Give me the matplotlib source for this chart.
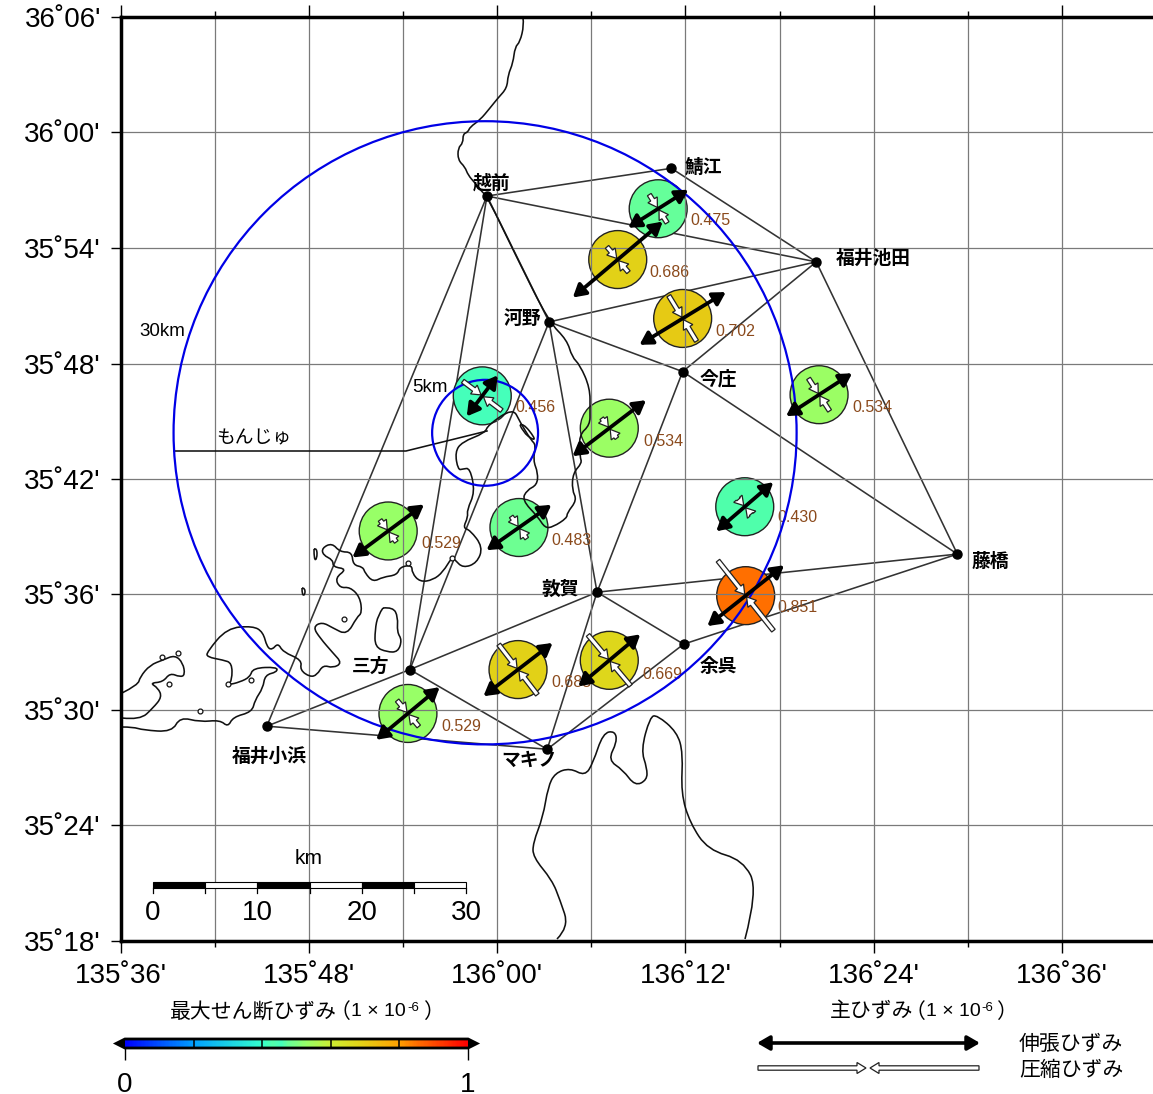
"""Principal strain map around Monju: baseline network, strain symbols and coastline."""

import numpy as np
import matplotlib
matplotlib.use("Agg")
import matplotlib.pyplot as plt
from matplotlib.cm import ScalarMappable
from matplotlib.colors import LinearSegmentedColormap, Normalize
from matplotlib.patches import Ellipse, FancyArrowPatch, PathPatch, Polygon, Rectangle
from matplotlib.path import Path

plt.rcParams['font.family'] = ['Liberation Sans', 'Noto Sans CJK JP', 'DejaVu Sans']

# GNSS stations
station_names = ['越前', '鯖江', '福井池田', '河野', '今庄', '藤橋', '敦賀', '余呉', '三方', '福井小浜', 'マキノ']
station_lon = [135.989, 136.185, 136.339, 136.055, 136.197, 136.489, 136.106, 136.198, 135.907, 135.755, 136.053]
station_lat = [35.945, 35.969, 35.888, 35.836, 35.793, 35.635, 35.602, 35.557, 35.535, 35.486, 35.466]

# baselines between stations
baselines = [('越前', '鯖江'), ('越前', '福井池田'), ('鯖江', '福井池田'), ('越前', '河野'),
             ('河野', '福井池田'), ('河野', '今庄'), ('福井池田', '今庄'), ('福井池田', '藤橋'),
             ('今庄', '藤橋'), ('今庄', '敦賀'), ('河野', '敦賀'), ('河野', '三方'),
             ('越前', '三方'), ('越前', '福井小浜'), ('三方', '福井小浜'), ('三方', '敦賀'),
             ('三方', 'マキノ'), ('福井小浜', 'マキノ'), ('敦賀', 'マキノ'), ('敦賀', '余呉'),
             ('余呉', 'マキノ'), ('敦賀', '藤橋'), ('余呉', '藤橋')]

# strain at each triangle: position, max shear, extension, compression, direction of extension
strain_lon = [136.171, 136.128, 136.197, 136.342, 135.984, 136.119, 136.263,
              135.884, 136.023, 136.264, 136.022, 136.119, 135.905]
strain_lat = [35.934, 35.890, 35.839, 35.773, 35.772, 35.744, 35.676,
              35.655, 35.658, 35.599, 35.535, 35.543, 35.497]
max_shear = [0.475, 0.686, 0.702, 0.534, 0.456, 0.534, 0.430, 0.529, 0.483, 0.851, 0.685, 0.669, 0.529]
extension = [0.323, 0.535, 0.460, 0.358, 0.234, 0.420, 0.342, 0.405, 0.360, 0.445, 0.397, 0.368, 0.375]
compression = [0.152, 0.151, 0.242, 0.176, 0.222, 0.114, 0.088, 0.124, 0.123, 0.406, 0.288, 0.301, 0.154]
extension_deg = [32.3, 40.2, 31.4, 33.0, 52.9, 37.3, 40.7, 36.5, 35.0, 38.4, 37.6, 40.0, 39.7]

coast_main_x = [523, 524, 520, 515, 513, 508, 507, 498, 490, 480, 470, 468, 463, 463, 458, 458, 465, 468, 475, 483,
                487, 518, 549, 567, 572, 580, 590, 590, 590, 579, 580, 582, 573, 572, 577, 567, 567, 553, 545, 538,
                522, 527, 537, 538, 533, 536, 531, 520, 513, 488, 485, 462, 455, 458, 463, 470, 475, 467, 468, 463,
                470, 483, 477, 463, 455, 452, 443, 433, 420, 412, 412, 400, 397, 383, 373, 365, 363, 353, 352, 340,
                332, 322, 323, 333, 333, 347, 335, 340, 350, 360, 362, 357, 347, 333, 322, 313, 320, 333, 342, 333,
                323, 317, 310, 300, 302, 283, 278, 272, 267, 263, 253, 227, 207, 207, 223, 232, 232, 228, 240, 250,
                253, 277, 277, 265, 263, 255, 252, 233, 228, 220, 200, 180, 172, 143, 133, 122]
coast_main_y = [18, 25, 42, 47, 63, 75, 88, 98, 108, 120, 127, 132, 134, 143, 148, 160, 167, 175, 183, 193,
                196, 260, 322, 340, 357, 365, 388, 410, 425, 435, 457, 463, 473, 490, 500, 513, 518, 527, 528, 517,
                500, 490, 485, 473, 460, 445, 440, 422, 408, 425, 433, 442, 452, 470, 469, 468, 492, 510, 517, 528,
                530, 547, 563, 568, 560, 557, 572, 580, 582, 573, 565, 567, 575, 577, 582, 573, 567, 565, 552, 552,
                543, 548, 555, 560, 567, 569, 578, 588, 587, 597, 613, 617, 635, 628, 622, 627, 638, 653, 663, 668,
                665, 675, 677, 670, 660, 652, 643, 650, 647, 632, 626, 628, 652, 657, 660, 663, 680, 685, 682, 677,
                668, 667, 672, 675, 688, 700, 712, 717, 727, 720, 722, 717, 732, 730, 727, 727]
coast_west_x = [122, 140, 153, 162, 158, 150, 163, 170, 180, 185, 183, 175, 163, 150, 140, 138, 122]
coast_west_y = [718, 720, 708, 697, 688, 683, 682, 673, 677, 675, 663, 655, 660, 665, 677, 685, 693]
lake_mikata_x = [383, 393, 398, 397, 402, 398, 387, 375, 375, 378, 383]
lake_mikata_y = [608, 607, 617, 632, 640, 652, 652, 647, 630, 615, 608]
lagoon_x = [520, 523, 535, 533, 523, 520]
lagoon_y = [425, 423, 438, 440, 432, 425]
island_a_x = [314, 317, 317, 314, 314]
island_a_y = [549, 548, 559, 560, 549]
island_b_x = [302, 305, 305, 302, 302]
island_b_y = [588, 588, 595, 595, 588]
biwa_x = [557, 569, 560, 552, 533, 533, 543, 548, 555, 570, 585, 593, 603, 615, 617, 608, 623, 635, 647, 647,
          641, 650, 657, 677, 683, 681, 690, 708, 743, 758, 745]
biwa_y = [939, 927, 900, 880, 857, 843, 817, 787, 773, 768, 776, 763, 733, 731, 742, 760, 770, 786, 780, 768,
          750, 717, 715, 732, 753, 793, 823, 850, 860, 890, 939]
islet_x = [344, 169, 200, 228, 251, 408, 452, 162, 178]
islet_y = [619, 684, 711, 684, 680, 563, 558, 657, 653]

monju_lon, monju_lat = 135.987, 35.740
circle_radii_km = [30, 5.1]
km_per_lon, km_per_lat = 90.6, 111.2

lon_ticks = [135.6, 135.8, 136.0, 136.2, 136.4, 136.6]
lon_tick_labels = ["135˚36'", "135˚48'", "136˚00'", "136˚12'", "136˚24'", "136˚36'"]
lon_minor_ticks = [135.7, 135.9, 136.1, 136.3, 136.5]
lat_ticks = [35.3, 35.4, 35.5, 35.6, 35.7, 35.8, 35.9, 36.0, 36.1]
lat_tick_labels = ["35˚18'", "35˚24'", "35˚30'", "35˚36'", "35˚42'", "35˚48'", "35˚54'", "36˚00'", "36˚06'"]

# map frame on the sheet
W, H = 1153, 1094
X0, Y0 = 121, 941          # pixel of 135.6E / 35.3N
PX_PER_LON, PX_PER_LAT = 940.8, 1155.0
STRAIN_PX = 110            # symbol half length for 1e-6


def sheet_lon(px):
    return 135.6 + (np.asarray(px, dtype=float) - X0) / PX_PER_LON


def sheet_lat(py):
    return 35.3 + (Y0 - np.asarray(py, dtype=float)) / PX_PER_LAT


def smooth_trace(lons, lats):
    """Quadratic curve path using the traced points as control points."""
    pts = np.column_stack([lons, lats])
    verts = [pts[0]]
    codes = [Path.MOVETO]
    for i in range(1, len(pts) - 1):
        end = pts[-1] if i == len(pts) - 2 else (pts[i] + pts[i + 1]) / 2
        verts += [pts[i], end]
        codes += [Path.CURVE3, Path.CURVE3]
    return Path(verts, codes)


cmap = LinearSegmentedColormap.from_list('shear', [
    (0.00, '#0000ff'), (0.20, '#00a0ff'), (0.40, '#33ffcc'), (0.43, '#50ffaa'), (0.456, '#44ffbb'),
    (0.475, '#66ff99'), (0.53, '#99ff66'), (0.60, '#ccee33'), (0.68, '#e0d418'), (0.80, '#ffa000'),
    (0.851, '#ff6f00'), (1.00, '#ff0000')])
cmap.set_under('black')
cmap.set_over('black')
norm = Normalize(0, 1)

fig = plt.figure(figsize=(W / 100, H / 100), dpi=100, facecolor='white')
ax = fig.add_axes([X0 / W, (H - Y0) / H, (W - X0) / W, (Y0 - 17) / H])
ax.set_xlim(135.6, 135.6 + (W - X0) / PX_PER_LON)
ax.set_ylim(35.3, 35.3 + (Y0 - 17) / PX_PER_LAT)

# ticks and graticule, drawn over the strain circles
ax.set_xticks(lon_ticks, lon_tick_labels, fontsize=20)
ax.set_xticks(lon_minor_ticks, minor=True)
ax.set_yticks(lat_ticks, lat_tick_labels, fontsize=20)
ax.tick_params(axis='x', which='major', length=8.5, width=1, pad=7, top=True)
ax.tick_params(axis='x', which='minor', length=4.5, width=1, top=True)
ax.tick_params(axis='y', which='major', length=7.5, width=1, pad=7)
ax.grid(True, which='both', color='#7a7a7a', lw=0.9)
ax.xaxis.set_zorder(3.5)
ax.yaxis.set_zorder(3.5)
ax.spines['right'].set_visible(False)
for side in ['left', 'top', 'bottom']:
    ax.spines[side].set_linewidth(2.5)
    ax.spines[side].set_zorder(7)

# baselines and stations
lookup = {n: (lo, la) for n, lo, la in zip(station_names, station_lon, station_lat)}
for a, b in baselines:
    ax.plot([lookup[a][0], lookup[b][0]], [lookup[a][1], lookup[b][1]],
            color='#333333', lw=1.15, zorder=2, solid_capstyle='round')
ax.plot(station_lon, station_lat, 'o', color='black', ms=6.5, zorder=5.5)

# max shear circles and their values
ax.scatter(strain_lon, strain_lat, s=1740, c=max_shear, cmap=cmap, norm=norm,
           edgecolors='#222222', linewidths=1.0, zorder=3)
value_dx = [32, 32, 33, 33, 33, 34, 33, 33, 32, 32, 33, 33, 33]
value_dy = [12, 13, 13, 13, 12, 13, 11, 13, 13, 12, 13, 14, 13]
for lo, la, v, dx, dy in zip(strain_lon, strain_lat, max_shear, value_dx, value_dy):
    ax.annotate(f'{v:.3f}', (lo, la), xytext=(dx * 0.72, -dy * 0.72), textcoords='offset points',
                fontsize=11.5, color='#8b4a1c', va='center', ha='left', zorder=2.5)

# coastline
for xs, ys in [(coast_main_x, coast_main_y), (coast_west_x, coast_west_y), (lake_mikata_x, lake_mikata_y),
               (lagoon_x, lagoon_y), (island_a_x, island_a_y), (island_b_x, island_b_y), (biwa_x, biwa_y)]:
    ax.add_patch(PathPatch(smooth_trace(sheet_lon(xs), sheet_lat(ys)), fill=False,
                           edgecolor='#111111', lw=1.15, zorder=3.6))
ax.plot(sheet_lon(islet_x), sheet_lat(islet_y), 'o', mfc='white', mec='#111111', mew=0.9, ms=3.5, zorder=3.6)

# distance circles around Monju and the leader to its label
for r in circle_radii_km:
    ax.add_patch(Ellipse((monju_lon, monju_lat), 2 * r / km_per_lon, 2 * r / km_per_lat, fill=False,
                         edgecolor='#0000e6', lw=1.6, zorder=4.5))
ax.plot(sheet_lon([174, 406, 487]), sheet_lat([451, 451, 431]), color='#111111', lw=1.15, zorder=3.6)


def compression_arrow(target, center, direction, tip_r, tail_r, sx, sy):
    """Hollow bar with a head pointing back at center; tip_r, tail_r in px, sx, sy scale px to target units."""
    ux, uy = direction
    px, py = -uy, ux
    w, hw, hl = 2.2, 5.5, 9
    along = [tail_r, tip_r + hl, tip_r + hl, tip_r, tip_r + hl, tip_r + hl, tail_r]
    across = [w, w, hw, 0, -hw, -w, -w]
    verts = [(center[0] + (r * ux + s * px) * sx, center[1] + (r * uy + s * py) * sy)
             for r, s in zip(along, across)]
    target.add_patch(Polygon(verts, closed=True, facecolor='white', edgecolor='#222222', lw=0.9,
                             joinstyle='miter', zorder=5))


def extension_arrow(target, a, b, lw=2.7):
    target.add_patch(FancyArrowPatch(a, b, arrowstyle='<|-|>,head_length=0.62,head_width=0.36',
                                     mutation_scale=12, shrinkA=0, shrinkB=0, color='black',
                                     lw=lw, zorder=5.2))


# principal strain symbols
for lo, la, e, c, deg in zip(strain_lon, strain_lat, extension, compression, extension_deg):
    t = np.radians(deg)
    ux, uy = np.cos(t) / PX_PER_LON, np.sin(t) / PX_PER_LAT
    v = (-np.sin(t), np.cos(t))
    for sign in (-1, 1):
        compression_arrow(ax, (lo, la), (sign * v[0], sign * v[1]), 1.5, c * STRAIN_PX,
                          1 / PX_PER_LON, 1 / PX_PER_LAT)
    extension_arrow(ax, (lo - e * STRAIN_PX * ux, la - e * STRAIN_PX * uy),
                    (lo + e * STRAIN_PX * ux, la + e * STRAIN_PX * uy))

# everything below is placed in sheet pixels
sheet = fig.add_axes([0, 0, 1, 1], zorder=10)
sheet.set_xlim(0, W)
sheet.set_ylim(H, 0)
sheet.axis('off')

name_x = [492, 703, 873, 522, 718, 990, 560, 718, 371, 269, 529]
name_y = [183, 168, 259, 319, 379, 562, 590, 667, 667, 757, 761]
for n, x, y in zip(station_names, name_x, name_y):
    sheet.text(x, y, n, fontsize=13.5, fontweight='bold', ha='center', va='center')

sheet.text(162, 331, '30km', fontsize=13.5, ha='center', va='center')
sheet.text(430, 388, '5km', fontsize=13.5, ha='center', va='center')
sheet.text(254, 439, 'もんじゅ', fontsize=13.5, ha='center', va='center')

# scale bar
scale_km = [0, 5, 10, 15, 20, 25, 30]
scale_labels = [0, 10, 20, 30]
px_per_km = (466 - 153) / 30
sheet.text(309, 859, 'km', fontsize=15, ha='center', va='center')
for i, (k0, k1) in enumerate(zip(scale_km[:-1], scale_km[1:])):
    sheet.add_patch(Rectangle((153 + k0 * px_per_km, 882), (k1 - k0) * px_per_km, 6,
                              facecolor='black' if i % 2 == 0 else 'white', edgecolor='black', lw=0.8))
for k in scale_km:
    sheet.plot([153 + k * px_per_km] * 2, [888, 893], color='black', lw=0.9)
for k in scale_labels:
    sheet.text(153 + k * px_per_km, 913, str(k), fontsize=20, ha='center', va='center')

# colour bar, the axes includes both end triangles
cax = fig.add_axes([116 / W, (H - 1048) / H, 361 / W, 9 / H])
cbar = fig.colorbar(ScalarMappable(norm=norm, cmap=cmap), cax=cax, orientation='horizontal',
                    extend='both', extendfrac=0.026, ticks=[0, 1])
cbar.ax.tick_params(length=8.5, width=1, pad=9, labelsize=20)
cbar.outline.set_linewidth(2)
for v in [0.2, 0.4, 0.6, 0.8]:
    cax.axvline(v, color='black', lw=1.1)

# titles with raised exponents
title_size = 15
sheet.text(170, 1012, '最大せん断ひずみ', fontsize=title_size, ha='left', va='center')
sheet.text(330, 1012, '（', fontsize=title_size, ha='left', va='center')
sheet.text(351, 1012, '1 × 10', fontsize=14, ha='left', va='center')
sheet.text(407, 1008, '-6', fontsize=9.5, ha='left', va='center')
sheet.text(423, 1012, '）', fontsize=title_size, ha='left', va='center')
sheet.text(830, 1012, '主ひずみ', fontsize=title_size, ha='left', va='center')
sheet.text(905, 1012, '（', fontsize=title_size, ha='left', va='center')
sheet.text(926, 1012, '1 × 10', fontsize=14, ha='left', va='center')
sheet.text(981, 1008, '-6', fontsize=9.5, ha='left', va='center')
sheet.text(996, 1012, '）', fontsize=title_size, ha='left', va='center')

# strain legend
extension_arrow(sheet, (757, 1043), (980, 1043), lw=2.6)
compression_arrow(sheet, (868, 1068), (-1, 0), 2, 110, 1, 1)
compression_arrow(sheet, (868, 1068), (1, 0), 2, 111, 1, 1)
sheet.text(1019, 1044, '伸張ひずみ', fontsize=15, ha='left', va='center')
sheet.text(1019, 1070, '圧縮ひずみ', fontsize=15, ha='left', va='center')

fig.savefig('out.png', dpi=100, facecolor='white')
